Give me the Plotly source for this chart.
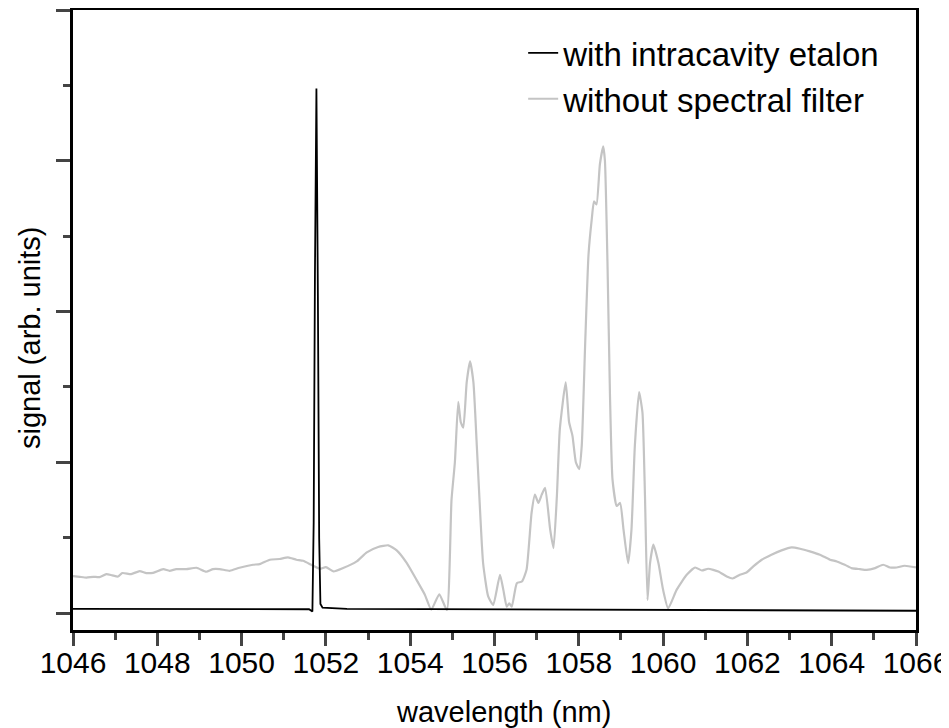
import plotly.graph_objects as go

# black trace: with intracavity etalon
etalon_x = [1046.0, 1047.0, 1048.0, 1049.0, 1050.0, 1051.0, 1051.6, 1051.68, 1051.71,
            1051.74, 1051.775, 1051.81, 1051.84, 1051.87, 1051.92, 1052.5, 1054.0,
            1056.0, 1058.0, 1060.0, 1062.0, 1064.0, 1066.0]
etalon_y = [0.055, 0.055, 0.054, 0.054, 0.053, 0.052, 0.05, 0.02, 1.2,
            4.5, 6.96, 4.2, 1.0, 0.12, 0.07, 0.055, 0.052,
            0.05, 0.045, 0.042, 0.038, 0.034, 0.03]

# grey trace: without spectral filter
free_x = [1046.00, 1046.16, 1046.32, 1046.48, 1046.63, 1046.79, 1046.93, 1047.07, 1047.17,
          1047.38, 1047.58, 1047.74, 1047.90, 1048.14, 1048.29, 1048.45, 1048.69, 1048.93,
          1049.16, 1049.32, 1049.48, 1049.72, 1049.95, 1050.27, 1050.43, 1050.67, 1050.90,
          1051.10, 1051.30, 1051.46, 1051.65, 1051.70, 1051.86, 1052.00, 1052.18, 1052.41,
          1052.73, 1052.97, 1053.24, 1053.48, 1053.68, 1053.92, 1054.15, 1054.35, 1054.50,
          1054.69, 1054.87, 1054.98, 1055.06, 1055.14, 1055.20, 1055.26, 1055.34, 1055.42,
          1055.50, 1055.58, 1055.66, 1055.73, 1055.85, 1055.97, 1056.13, 1056.21, 1056.29,
          1056.35, 1056.41, 1056.53, 1056.65, 1056.76, 1056.88, 1056.96, 1057.04, 1057.12,
          1057.20, 1057.32, 1057.40, 1057.48, 1057.55, 1057.69, 1057.77, 1057.85, 1057.93,
          1058.01, 1058.07, 1058.15, 1058.23, 1058.31, 1058.36, 1058.42, 1058.50, 1058.58,
          1058.62, 1058.68, 1058.74, 1058.80, 1058.90, 1058.98, 1059.06, 1059.17, 1059.25,
          1059.33, 1059.43, 1059.51, 1059.57, 1059.63, 1059.69, 1059.77, 1059.89, 1060.00,
          1060.12, 1060.32, 1060.56, 1060.76, 1060.92, 1061.07, 1061.31, 1061.51, 1061.65,
          1061.82, 1061.98, 1062.14, 1062.34, 1062.57, 1062.81, 1063.05, 1063.25, 1063.48,
          1063.72, 1063.96, 1064.12, 1064.31, 1064.47, 1064.67, 1064.83, 1065.03, 1065.22,
          1065.38, 1065.54, 1065.73, 1066.00]
free_y = [0.49, 0.48, 0.47, 0.48, 0.476, 0.516, 0.50, 0.484, 0.53,
          0.516, 0.556, 0.53, 0.533, 0.582, 0.56, 0.582, 0.582, 0.60,
          0.547, 0.582, 0.582, 0.56, 0.60, 0.64, 0.649, 0.707, 0.716,
          0.738, 0.707, 0.693, 0.64, 0.627, 0.587, 0.609, 0.551, 0.596,
          0.684, 0.804, 0.876, 0.898, 0.831, 0.662, 0.44, 0.24, 0.045,
          0.249, 0.04, 1.50, 2.0, 2.8, 2.53, 2.46, 3.06, 3.34,
          3.06, 2.22, 1.33, 0.66, 0.22, 0.107, 0.507, 0.307, 0.084,
          0.129, 0.084, 0.396, 0.418, 0.573, 1.33, 1.57, 1.46, 1.57,
          1.66, 1.11, 0.862, 1.55, 2.44, 3.06, 2.53, 2.35, 2.0,
          1.91, 2.22, 3.55, 4.75, 5.24, 5.46, 5.42, 5.95, 6.19,
          6.0, 4.66, 2.88, 1.77, 1.42, 1.46, 1.11, 0.66, 1.11,
          2.22, 2.93, 2.66, 1.55, 0.173, 0.66, 0.907, 0.66, 0.307,
          0.062, 0.307, 0.507, 0.604, 0.564, 0.587, 0.551, 0.484, 0.458,
          0.507, 0.538, 0.618, 0.707, 0.773, 0.831, 0.871, 0.853, 0.818,
          0.773, 0.707, 0.684, 0.64, 0.596, 0.582, 0.573, 0.596, 0.64,
          0.604, 0.604, 0.627, 0.604]

x_title = "wavelength (nm)"
y_title = "signal (arb. units)"

FONT = "Arial, Liberation Sans, sans-serif"

fig = go.Figure()
fig.add_trace(go.Scatter(x=free_x, y=free_y, mode="lines", name="without spectral filter",
                         line=dict(color="#c4c4c4", width=2.2, shape="spline", smoothing=0.5)))
fig.add_trace(go.Scatter(x=etalon_x, y=etalon_y, mode="lines", name="with intracavity etalon",
                         line=dict(color="black", width=1.8)))

fig.update_layout(
    width=949, height=728,
    margin=dict(l=65, r=41, t=2, b=106),
    paper_bgcolor="white", plot_bgcolor="white",
    font=dict(family=FONT, color="black", size=29),
    showlegend=True,
    legend=dict(x=0.534, y=0.976, xanchor="left", yanchor="top",
                traceorder="reversed", bgcolor="rgba(0,0,0,0)",
                font=dict(size=33, family=FONT)),
    xaxis=dict(range=[1046, 1066], dtick=2, tick0=1046, ticks="outside", ticklen=13,
               tickwidth=3, showline=True, linewidth=3, linecolor="black", mirror=True,
               showgrid=False, zeroline=False, automargin=False,
               minor=dict(dtick=1, ticks="outside", ticklen=7, tickwidth=3, showgrid=False),
               tickfont=dict(size=30, family=FONT), ticklabelstandoff=-9),
    yaxis=dict(range=[-0.2255, 8.0], dtick=2, tick0=0, ticks="outside", ticklen=14,
               tickwidth=3, showline=True, linewidth=3, linecolor="black", mirror=True,
               showgrid=False, zeroline=False, showticklabels=False, automargin=False,
               minor=dict(dtick=1, ticks="outside", ticklen=7, tickwidth=3, showgrid=False)),
    annotations=[
        dict(text=x_title, xref="paper", yref="paper", x=0.511, y=-0.132,
             xanchor="center", yanchor="middle", showarrow=False,
             font=dict(size=29, family=FONT)),
        dict(text=y_title, xref="paper", yref="paper", x=-0.051, y=0.471, textangle=-90,
             xanchor="center", yanchor="middle", showarrow=False,
             font=dict(size=29, family=FONT)),
    ],
)

fig.write_html("out.html")
